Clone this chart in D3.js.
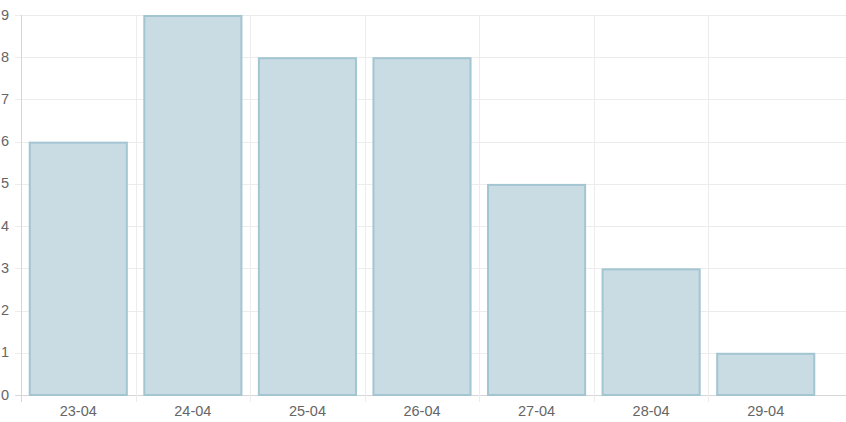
<!DOCTYPE html>
<html lang="en">
<head>
  <meta charset="UTF-8">
  <title>Daily count</title>
  <style>
    html, body { margin: 0; padding: 0; background: #fff; overflow: hidden; }
    svg { display: block; font-family: "Liberation Sans", Arial, sans-serif; }
  </style>
</head>
<body>
  <svg id="chart"></svg>
  <script src="https://d3js.org/d3.v7.min.js"></script>
  <script>
    const days = ['23-04', '24-04', '25-04', '26-04', '27-04', '28-04', '29-04']
    const counts = [6, 9, 8, 8, 5, 3, 1]
    const yTicks = [0, 1, 2, 3, 4, 5, 6, 7, 8, 9]

    ;(function main () {
      const width = 846, height = 422
      const mLeft = 21, mRight = 823, mTop = 15, mBottom = 395

      const svg = d3.select('#chart').attr('width', width).attr('height', height)

      const x = d3.scaleBand().domain(days).range([mLeft, mRight]).padding(0)
      const y = d3.scaleLinear().domain([0, 9]).range([mBottom, mTop])
      const barW = x.bandwidth() * 0.865

      // horizontal grid + y ticks
      svg.append('g').selectAll('line').data(yTicks).join('line')
        .attr('x1', mLeft - 6).attr('x2', width)
        .attr('y1', d => Math.round(y(d)) + 0.5).attr('y2', d => Math.round(y(d)) + 0.5)
        .attr('stroke', d => d === 0 ? '#d6d6d6' : '#ececec')

      // vertical grid
      svg.append('g').selectAll('line').data(days).join('line')
        .attr('x1', d => Math.round(x(d)) + 0.5).attr('x2', d => Math.round(x(d)) + 0.5)
        .attr('y1', mTop).attr('y2', mBottom + 7)
        .attr('stroke', (d, i) => i === 0 ? '#d6d6d6' : '#ececec')

      svg.append('g').selectAll('text').data(yTicks).join('text')
        .attr('x', 9).attr('y', d => y(d) + 4.5)
        .attr('text-anchor', 'end')
        .attr('font-size', 14.5).attr('fill', '#666')
        .text(d => d)

      // bars
      svg.append('g').selectAll('rect').data(days).join('rect')
        .attr('x', d => x(d) + (x.bandwidth() - barW) / 2 + 1)
        .attr('width', barW - 2)
        .attr('y', (d, i) => y(counts[i]) + 1)
        .attr('height', (d, i) => mBottom - y(counts[i]) - 1)
        .attr('fill', '#c9dce3')
        .attr('stroke', '#a3c5d2')
        .attr('stroke-width', 2)

      svg.append('g').selectAll('text').data(days).join('text')
        .attr('x', d => x(d) + x.bandwidth() / 2).attr('y', 416)
        .attr('text-anchor', 'middle')
        .attr('font-size', 14.5).attr('fill', '#666')
        .text(d => d)
    })()
  </script>
</body>
</html>
